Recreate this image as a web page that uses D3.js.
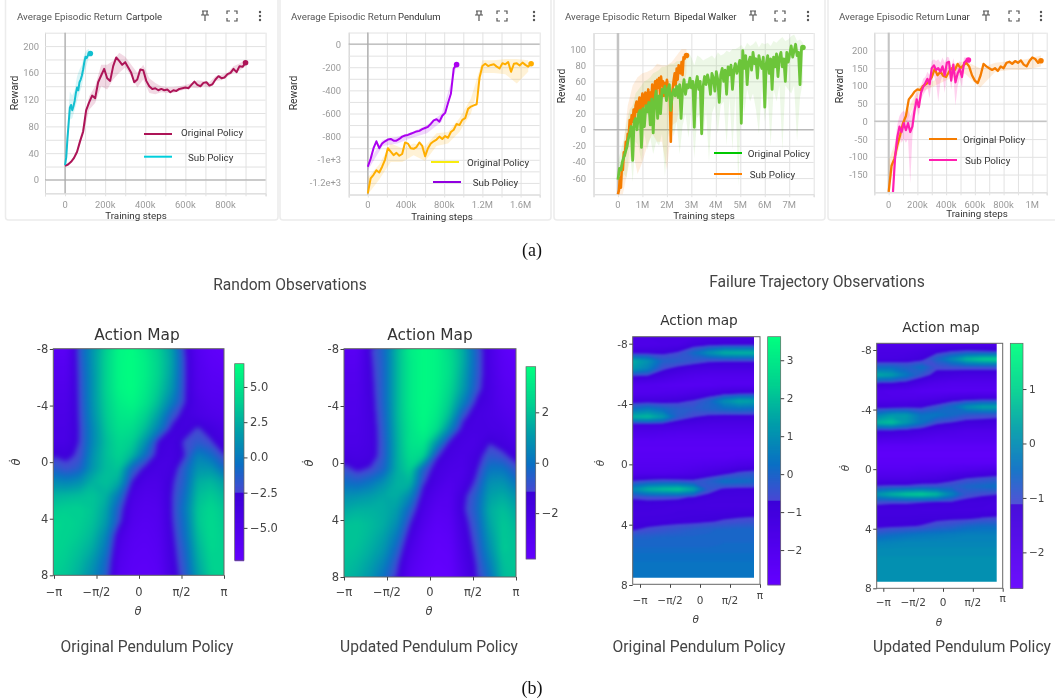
<!DOCTYPE html>
<html><head><meta charset="utf-8">
<script src="https://cdn.jsdelivr.net/npm/d3@7"></script>
<style>html,body{margin:0;padding:0;background:#fff}svg{display:block;filter:blur(.55px)}</style>
</head><body><div id="c"></div>
<script>
// ---------- Training-curve data ----------
const cartOrig=[21,23,27,33,42,58,72,104,116,126,122,146,156,166,152,148,170,183,178,172,176,168,160,146,150,165,164,148,140,136,137,134,136,134,135,131,134,133,136,137,138,137,142,147,142,140,145,146,141,143,150,155,152,153,158,160,166,161,170,169,175];
const cartOrigHi=[22,28,46,80,125,140,172,172,178,190,184,172,160,172,152,145,140,139,139,140,142,145,149,148,146,155,157,160,170,174,180];
const cartOrigLo=[20,26,40,66,105,115,140,135,150,160,168,155,138,150,130,128,131,130,130,133,135,138,137,140,138,148,149,154,160,163,170];
const cartSub=[22,34,62,85,108,112,104,110,118,130,138,134,146,150,156,165,176,184,182,186,190,189];
const cartSubHi=[24,80,132,126,134,155,165,172,188,194,196];
const cartSubLo=[22,50,90,92,105,118,130,140,160,172,184];

const pendOrig=[-1290,-1160,-1130,-1090,-1110,-1060,-1000,-900,-930,-960,-940,-965,-950,-850,-860,-900,-905,-890,-850,-880,-970,-900,-860,-840,-825,-800,-820,-795,-810,-760,-740,-690,-700,-655,-640,-560,-540,-530,-520,-290,-190,-170,-190,-180,-175,-195,-210,-165,-175,-155,-240,-170,-165,-185,-160,-180,-195,-170];
const pendOrigHi=[-1150,-1040,-860,-900,-860,-880,-770,-760,-640,-470,-140,-140,-130,-130,-140];
const pendOrigLo=[-1300,-1170,-1020,-1020,-960,-1010,-880,-860,-760,-600,-250,-250,-260,-340,-240];
const pendSub=[-1060,-990,-900,-840,-900,-860,-840,-825,-820,-835,-835,-820,-800,-790,-785,-775,-765,-755,-750,-735,-725,-715,-690,-660,-650,-670,-620,-595,-510,-430,-210,-178];
const pendSubHi=[-1030,-830,-800,-760,-700,-600,-165];
const pendSubLo=[-1090,-880,-860,-810,-770,-670,-190];

const walkOrig=[-62,-48,-50,-40,-34,-28,-22,-12,-4,4,
-38,10,14,0,20,24,-22,26,4,30,
22,34,6,38,-4,36,48,14,42,20,
50,46,54,36,50,56,24,44,50,42,
54,40,56,14,50,62,44,56,52,64,
52,60,3,56,66,50,60,-5,54,66,
56,68,60,44,70,64,48,72,62,34,
68,76,60,74,44,78,68,80,50,74,
82,70,78,86,8,98,76,92,56,84,
90,74,96,82,88,64,92,82,76,90,
28,82,92,70,88,50,90,78,94,66,
90,96,78,88,60,96,84,94,104,90,
98,106,92,96,56,100,102];
const walkOrigHi=[-40,-25,-12,10,25,30,45,50,55,60,62,65,70,72,74,78,78,80,82,82,85,85,88,90,96,90,80,92,90,86,88,90,92,88,96,92,94,98,96,100,100,102,105,100,108,104,106,110,102,108,106,108,104,110,108,112,115,110,112,116,118,110,112,108];
const walkOrigLo=[-80,-70,-55,-60,-20,-65,-15,-20,-40,-5,-25,-10,-30,-15,-20,-5,-58,-10,5,-8,10,-30,5,20,-10,25,-35,15,20,-10,25,-40,20,30,-5,30,35,-20,40,-25,45,-70,45,20,50,35,45,25,-5,50,10,45,-20,50,35,55,-25,55,50,45,55,-15,40,60];
const walkSub=[-80,-75,-60,-72,-45,-50,-28,-32,-15,-22,-5,-8,12,2,18,10,25,8,30,35,22,32,40,18,36,45,28,38,46,30,42,50,25,46,35,56,30,48,60,40,62,52,64,44,66,55,60,42,58,48,62,54,50,40,-15,40,52,62,70,55,76,62,80,74,70,84,68,90,88,92,92];
const walkSubHi=[-60,-25,30,55,65,70,72,75,82,80,80,84,92,100,100];
const walkSubLo=[-80,-80,-50,-25,-55,-40,-20,-5,-15,-15,-50,5,10,40,70];

const lunarOrig=[-199,-125,-105,-68,-38,-5,15,62,72,84,90,88,100,105,112,125,148,130,140,128,125,140,150,145,162,150,158,165,155,130,115,108,130,162,155,150,145,150,142,155,150,165,168,162,170,165,172,160,155,170,180,176,165,171];
const lunarOrigHi=[-110,8,100,115,158,170,150,165,170,175,186];
const lunarOrigLo=[-190,-20,80,100,120,135,95,140,145,145,155];
const lunarSub=[-199,-100,-45,-15,-30,-5,-25,-5,-30,-15,30,62,40,80,97,108,120,105,150,158,145,150,140,155,130,165,168,115,160,110,135,148,125,165,172,173];
const lunarSubHi=[-150,-60,-10,15,25,30,20,35,15,30,60,85,60,100,120,125,140,130,170,175,170,175,165,180,165,182,180,150,178,150,160,170,150,180,180,178];
const lunarSubLo=[-199,-120,-70,-40,-60,-50,-60,-50,-175,-45,5,40,15,60,75,85,95,65,120,130,110,55,110,130,80,140,140,90,130,45,100,120,95,150,165,170];

// ---------- Axis ticks ----------
const cartXTicks=[0,200000,400000,600000,800000];
const cartXLabels=["0","200k","400k","600k","800k"];
const cartYTicks=[0,40,80,120,160,200];
const pendXTicks=[0,400000,800000,1200000,1600000];
const pendXLabels=["0","400k","800k","1.2M","1.6M"];
const pendYTicks=[0,-200,-400,-600,-800,-1000,-1200];
const pendYLabels=["0","-200","-400","-600","-800","-1e+3","-1.2e+3"];
const walkXTicks=[0,1e6,2e6,3e6,4e6,5e6,6e6,7e6];
const walkXLabels=["0","1M","2M","3M","4M","5M","6M","7M"];
const walkYTicks=[100,80,60,40,20,0,-20,-40,-60];
const lunarXTicks=[0,2e5,4e5,6e5,8e5,1e6];
const lunarXLabels=["0","200k","400k","600k","800k","1M"];
const lunarYTicks=[200,150,100,50,0,-50,-100,-150];

// ---------- Action maps: rows top to bottom, theta left to right ----------
const map1=[
[-6,-6,-1.5,1.5,4,6.3,6.5,5.5,4,2,-2.4,-5.5,-6.5,-6.8],
[-5.5,-5.5,-1.8,1.5,4.2,6.3,6.6,5.8,4.2,2.2,-2.2,-5.2,-6.2,-6.5],
[-5.2,-5.2,-2,1.4,4.2,6.3,6.6,5.8,4.2,2,-2.2,-5,-5.8,-6],
[-4.8,-4.8,-2.1,1.4,4.2,6.2,6.6,5.6,3.8,1.6,-2.3,-4.8,-5.5,-5.6],
[-4.5,-4.5,-2.2,1.4,4,5.8,6.3,5.2,3.2,0.5,-2.4,-4.3,-5,-5.2],
[-4.2,-4.2,-2.3,1.2,3.8,5.4,5.6,4.2,2,-1.5,-3.2,-4,-4.5,-4.8],
[-4,-4,-2.4,0.8,3.5,5,4.8,3.2,0.5,-2.8,-3.2,-2.3,-3.2,-4],
[-3.8,-3.8,-2.4,0.8,3.2,4.5,4,1.5,-2.8,-3.4,-2.3,-1.5,-2.3,-3.5],
[-2.6,-2.9,-2.2,1.3,3.3,4.2,3,-0.5,-3.2,-3.6,-2.5,0.5,-0.5,-2.4],
[-1.2,-2,-1.2,1.6,3.2,3.6,-1,-3,-3.8,-3.5,-1.2,1.5,1.5,-0.5],
[1,0.6,1.2,2.8,3.4,2.4,-2.6,-4.2,-4.3,-2.8,-1,2.6,3,2],
[2.8,3,3.2,3.5,2.8,0,-4,-4.8,-4.6,-2.6,-0.5,3.2,3.8,3],
[3.8,4,4,3.6,2.2,-1.5,-4.6,-5.2,-5,-2.6,0,3.6,4.4,3.6],
[4.4,4.3,4,3.4,1.8,-2,-5,-5.6,-5.2,-2.7,-0.3,3.6,4.6,3.8],
[4.4,4.2,3.8,3,0.8,-3.8,-5.5,-5.8,-5.4,-3,-0.5,3.2,4.6,4],
[4.4,4,3.4,2.4,0,-4.5,-5.8,-6,-5.6,-3.2,-1,2.8,4.4,4.2],
[4.2,3.8,3,1.6,-0.8,-5,-6,-6.2,-5.8,-3.4,-1.3,2.4,4.2,4.2],
[4,3.6,2.6,1,-1.2,-5.4,-6.2,-6.4,-6,-3.6,-1.6,2,4,4.2]];
const map2=[
[-3,-3,-1.2,-0.2,1.8,3.3,3.7,3.5,2.7,1.6,-0.4,-2,-3.2,-3.6],
[-2.8,-2.8,-1.3,-0.3,1.8,3.2,3.7,3.5,2.8,1.6,-0.4,-2,-3,-3.4],
[-2.6,-2.6,-1.4,-0.3,1.8,3.2,3.7,3.5,2.8,1.4,-0.5,-1.9,-2.9,-3.2],
[-2.5,-2.5,-1.5,-0.3,1.8,3.2,3.7,3.5,2.6,1.2,-0.7,-1.9,-2.7,-3],
[-2.4,-2.4,-1.6,-0.3,1.8,3.2,3.7,3.4,2.3,0.5,-1.3,-1.9,-2.6,-2.8],
[-2.3,-2.3,-1.7,-0.4,1.8,3.1,3.7,3.2,1.8,-0.8,-1.8,-2,-2.3,-2.6],
[-2.2,-2.2,-1.8,-0.5,1.7,3,3.6,2.8,0.6,-1.6,-1.9,-1.9,-2,-2.4],
[-2.1,-2.1,-1.8,-0.6,1.6,3,3.2,1,-1.4,-1.9,-2,-1.2,-1.6,-2.1],
[-1.7,-1.9,-1.7,-0.6,1.6,2.8,2.5,-1,-1.8,-2.1,-1.6,-0.6,-0.9,-1.5],
[-0.8,-1.3,-1,-0.3,1.6,2.4,-0.4,-1.7,-2.1,-2.2,-1.3,0.2,0.2,-0.7],
[0,-0.2,0.2,0.9,1.7,1.8,-1,-2,-2.5,-2,-0.9,0.9,1,0.2],
[0.9,1,1.2,1.5,1.6,0.6,-1.7,-2.5,-2.7,-1.4,-0.4,1.3,1.6,1],
[1.5,1.7,1.7,1.6,1.2,-0.4,-2.1,-2.9,-2.8,-1.3,-0.3,1.6,2,1.5],
[2,2.1,1.9,1.6,0.8,-1.1,-2.5,-3.2,-3,-1.6,-0.5,1.4,2.2,1.8],
[2.1,2.1,1.8,1.3,0.2,-1.7,-2.9,-3.4,-3.2,-1.8,-0.7,1.1,2.2,2],
[2.1,2,1.6,1,-0.4,-2.2,-3.1,-3.5,-3.4,-2,-0.9,0.8,2.2,2.1],
[2,1.8,1.3,0.5,-0.9,-2.6,-3.3,-3.6,-3.5,-2.2,-1.1,0.4,2,2.2],
[1.9,1.6,1,0,-1.2,-2.9,-3.5,-3.7,-3.6,-2.4,-1.2,0,1.9,2.1]];
const map3=[
[-1.5,-1.5,-1.5,-1.5,-1.5,-1.4,-1.4,-1.4,-1.4],
[-1.6,-1.6,-1.5,-1.4,-1,-0.8,-0.7,-0.7,-0.7],
[-0.9,-0.9,-0.85,-0.6,0.2,1.1,1.8,1.9,1.9],
[1.7,1.1,0,-0.1,-0.3,-0.55,-0.6,-0.6,-0.6],
[1.3,0.7,-0.55,-0.95,-1.2,-1.3,-1.3,-1.3,-1.3],
[-0.85,-0.9,-1.3,-1.6,-1.8,-1.9,-1.9,-1.9,-1.9],
[-1.8,-1.9,-2,-2.1,-2.1,-2.1,-2,-2,-2],
[-1.9,-1.9,-1.8,-1.7,-1.5,-1.3,-1,-0.85,-0.8],
[-1,-1,-1,-0.85,-0.6,0,1,1.6,1.5],
[0.3,0.6,0.2,-0.1,-0.2,0,0.2,0.3,0.2],
[1.8,2,1.3,-0.2,-0.65,-0.9,-1,-1,-1],
[-1.1,-1.1,-1.15,-1.3,-1.4,-1.5,-1.5,-1.5,-1.5],
[-1.7,-1.7,-1.8,-1.9,-1.9,-1.9,-1.9,-1.9,-1.9],
[-2.2,-2.2,-2.2,-2.2,-2.2,-2.2,-2.2,-2.2,-2.2],
[-2.3,-2.3,-2.3,-2.3,-2.3,-2.3,-2.3,-2.3,-2.3],
[-2.2,-2.2,-2.2,-2.2,-2.2,-2.2,-2.2,-2.1,-2.1],
[-2,-2,-2,-2,-1.9,-1.8,-1.7,-1.5,-1.4],
[-1.8,-1.8,-1.8,-1.7,-1.5,-1.2,-0.9,-0.5,-0.3],
[-0.6,-0.4,-0.3,-0.4,-0.5,-0.1,0.4,0.3,0.2],
[1,1.8,2.1,2.3,1.6,-0.3,-0.8,-0.9,-0.9],
[-0.6,-0.5,-0.5,-0.55,-0.75,-1,-1.1,-1.1,-1.1],
[-1,-1,-1.05,-1.1,-1.15,-1.2,-1.2,-1.2,-1.2],
[-1.1,-1.1,-1.1,-1.05,-1,-1,-0.95,-0.9,-0.85],
[-1,-1,-0.95,-0.9,-0.85,-0.75,-0.6,-0.5,-0.45],
[-0.75,-0.55,-0.4,-0.25,-0.1,0,0.05,0.1,0.1],
[0,0,0.05,0.05,0.05,0.05,0.1,0.1,0.1],
[0.1,0.1,0.1,0.1,0.1,0.1,0.15,0.15,0.15],
[0.25,0.25,0.25,0.25,0.25,0.25,0.25,0.25,0.25],
[0.35,0.35,0.35,0.35,0.35,0.35,0.35,0.35,0.35],
[0.4,0.4,0.4,0.4,0.4,0.4,0.4,0.4,0.4],
[0.4,0.4,0.4,0.4,0.4,0.4,0.4,0.4,0.4]];
const map4=[
[-1.9,-1.9,-1.9,-1.9,-1.9,-1.9,-1.9,-1.9,-1.9],
[-1.6,-1.6,-1.6,-1.5,-1.3,-1.1,-1,-1.05,-1.1],
[-1.5,-1.5,-1.4,-1.25,-0.6,0,0.7,1,1.1],
[-0.5,-0.5,-0.7,-0.4,-1,-0.95,-0.9,-0.9,-0.9],
[0.5,0.3,-0.3,-0.9,-1.3,-1.4,-1.5,-1.5,-1.5],
[-1.1,-1.15,-1.3,-1.6,-1.8,-1.9,-1.9,-1.9,-1.9],
[-1.8,-1.9,-1.95,-2.1,-2.1,-2.1,-2.1,-2.1,-2.1],
[-1.8,-1.8,-1.8,-1.7,-1.6,-1.4,-1.3,-1.25,-1.25],
[-1.3,-1.3,-1.25,-1.2,-0.9,-0.5,0.1,0.4,0.4],
[-0.2,0.2,0.2,-0.4,-0.3,-0.5,-0.8,-0.9,-0.9],
[0.6,0.8,0.2,-0.4,-1,-1.15,-1.3,-1.3,-1.4],
[-1.2,-1.2,-1.3,-1.45,-1.6,-1.7,-1.8,-1.8,-1.8],
[-1.7,-1.8,-1.8,-1.9,-2,-2,-2,-2,-2],
[-2.3,-2.3,-2.3,-2.3,-2.3,-2.3,-2.3,-2.3,-2.3],
[-2.4,-2.4,-2.4,-2.4,-2.4,-2.4,-2.4,-2.4,-2.4],
[-2.3,-2.3,-2.3,-2.3,-2.3,-2.3,-2.3,-2.3,-2.3],
[-2.1,-2.1,-2.1,-2,-2,-1.9,-1.8,-1.7,-1.6],
[-1.7,-1.7,-1.7,-1.6,-1.5,-1.3,-1.1,-1,-0.9],
[-1.05,-1,-1,-0.9,-0.9,-0.8,-0.6,-0.5,-0.4],
[0.2,0.6,0.9,1,0.7,-0.1,-0.9,-1.05,-1.1],
[-1,-1.05,-1.05,-1.1,-1.15,-1.2,-1.3,-1.35,-1.4],
[-1.35,-1.35,-1.35,-1.4,-1.4,-1.4,-1.4,-1.4,-1.4],
[-1.3,-1.3,-1.3,-1.25,-1.25,-1.2,-1.2,-1.1,-1.05],
[-1.25,-1.2,-1.15,-1.1,-0.9,-0.8,-0.6,-0.5,-0.5],
[-0.7,-0.55,-0.45,-0.35,-0.3,-0.25,-0.2,-0.2,-0.2],
[-0.2,-0.15,-0.1,-0.1,-0.1,-0.1,-0.1,-0.1,-0.1],
[0,0,0,0,0,0,0,0,0],
[0.05,0.05,0.05,0.05,0.05,0.05,0.05,0.05,0.05],
[0.1,0.1,0.1,0.1,0.1,0.1,0.1,0.1,0.1],
[0.1,0.1,0.1,0.1,0.1,0.1,0.1,0.1,0.1],
[0.1,0.1,0.1,0.1,0.1,0.1,0.1,0.1,0.1]];
const dotThetaTicks=[-8,-4,0,4,8];
const thetaTicks=[-Math.PI,-Math.PI/2,0,Math.PI/2,Math.PI];
const thetaLabels=["−π","−π/2","0","π/2","π"];

// ---------- Layout ----------
const svg=d3.select("#c").append("svg").attr("width",1055).attr("height",700);
const defs=svg.append("defs");
const FONT_SANS="Roboto, sans-serif", FONT_MPL="'DejaVu Sans', sans-serif";
function txt(x,y,s,opts={}){
  const t=svg.append("text").attr("x",x).attr("y",y).text(s)
   .attr("font-size",opts.size||10).attr("fill",opts.fill||"#333")
   .attr("font-family",opts.font||FONT_SANS).attr("text-anchor",opts.anchor||"start")
   .attr("dominant-baseline","central");
  if(opts.style)t.attr("font-style",opts.style);
  if(opts.rotate)t.attr("transform",`rotate(${opts.rotate} ${x} ${y})`);
  return t;
}
function icons(px,dx,fx,dotx,y){
  const g=svg.append("g").attr("stroke","#555").attr("fill","none").attr("stroke-width",1.2);
  g.append("path").attr("d",`M${px-3},${y-5}h6M${px-2},${y-5}v4M${px+2},${y-5}v4M${px-4},${y-1}h8M${px},${y-1}v6`);
  g.append("path").attr("d",`M${fx-5},${y-2}v-3h3M${fx+2},${y-5}h3v3M${fx+5},${y+2}v3h-3M${fx-2},${y+5}h-3v-3`);
  [-4,0,4].forEach(d=>svg.append("circle").attr("cx",dotx).attr("cy",y+d).attr("r",1.2).attr("fill","#555"));
}
function panel(p){
  svg.append("rect").attr("x",p.card[0]).attr("y",-3).attr("width",p.card[1]-p.card[0]).attr("height",223)
    .attr("rx",3).attr("fill","#fff").attr("stroke","#ececec").attr("stroke-width",1.5);
  const x=d3.scaleLinear().domain(p.xd).range(p.xr), y=d3.scaleLinear().domain(p.yd).range(p.yr);
  const g=svg.append("g");
  const gx=g.append("g").attr("transform",`translate(0,${p.yr[0]})`)
    .call(d3.axisBottom(x).tickValues(d3.range(p.xd[0],p.xd[1]+1,p.xGrid)).tickSize(3).tickFormat(""));
  gx.selectAll("line").attr("y1",p.yr[1]-p.yr[0]).attr("y2",3).attr("stroke","#e2e2e2");
  gx.select(".domain").attr("stroke","#cfcfcf");
  const gy=g.append("g").attr("transform",`translate(${p.xr[0]},0)`)
    .call(d3.axisLeft(y).tickValues(d3.range(p.yd[0],p.yd[1]+1,p.yGrid)).tickSize(0).tickFormat(""));
  gy.selectAll("line").attr("x1",p.xr[1]-p.xr[0]).attr("x2",0).attr("stroke","#e2e2e2");
  gy.select(".domain").attr("stroke","#d4d4d4");
  g.append("line").attr("x1",x(0)).attr("x2",x(0)).attr("y1",p.yr[0]).attr("y2",p.yr[1]).attr("stroke",p.zeroV[0]).attr("stroke-width",p.zeroV[1]);
  g.append("line").attr("x1",p.xr[0]).attr("x2",p.xr[1]).attr("y1",y(0)).attr("y2",y(0)).attr("stroke",p.zeroH[0]).attr("stroke-width",p.zeroH[1]);
  // tick labels
  p.xTicks.forEach((v,i)=>txt(x(v),204,p.xLabels[i],{size:9.4,fill:"#9a9a9a",anchor:"middle"}));
  p.yTicks.forEach((v,i)=>txt(p.yLabelX,y(v),p.yLabels?p.yLabels[i]:String(v),{size:9.4,fill:"#9a9a9a",anchor:"end"}));
  p.series.forEach(s=>{
    const bx=i=>x((s.start||0)+i*s.bandStep);
    g.append("path").datum(s.hi.map((h,i)=>[i,h,s.lo[i]]))
      .attr("d",d3.area().x(d=>bx(d[0])).y0(d=>y(d[2])).y1(d=>y(d[1])))
      .attr("fill",s.color).attr("opacity",s.bandOp||.16);
  });
  p.series.forEach(s=>{
    const sx=i=>x((s.start||0)+i*s.step);
    g.append("path").datum(s.v).attr("fill","none").attr("stroke",s.color).attr("stroke-width",s.w||2)
      .attr("stroke-linejoin","round").attr("d",d3.line().x((d,i)=>sx(i)).y(d=>y(d)));
    g.append("circle").attr("cx",sx(s.v.length-1)).attr("cy",y(s.v[s.v.length-1])).attr("r",2.8).attr("fill",s.color);
  });
  txt(p.titleX,16,"Average Episodic Return",{size:9.75,fill:"#555"});
  txt(p.nameX,16,p.name,{size:9.5,fill:"#333"});
  icons(p.icons[0],0,p.icons[1],p.icons[2],16);
  txt(p.xLabel[0],p.xLabel[1],"Training steps",{size:9.8,fill:"#333",anchor:"middle"});
  txt(p.yLabel[0],p.yLabel[1],"Reward",{size:10.4,fill:"#333",anchor:"middle",rotate:-90});
  p.legend.forEach(l=>{
    svg.append("line").attr("x1",l.x1).attr("x2",l.x1+28).attr("y1",l.y).attr("y2",l.y).attr("stroke",l.color).attr("stroke-width",2);
    txt(l.tx,l.ty,l.label,{size:9.8,fill:"#333"});
  });
}
const panels=[
 {name:"Cartpole",card:[5.5,278],titleX:17,nameX:126,icons:[205,232,260],xd:[-1e5,1e6],xr:[45,265.6],yd:[-20,220],yr:[193.3,32.7],xGrid:1e5,yGrid:20,
  xTicks:cartXTicks,xLabels:cartXLabels,yTicks:cartYTicks,yLabelX:39,zeroV:["#a8a8a8",1.2],zeroH:["#a8a8a8",1],
  xLabel:[136,215],yLabel:[14,93],
  series:[{v:cartOrig,step:15000,hi:cartOrigHi,lo:cartOrigLo,bandStep:30000,color:"#ad1457"},{v:cartSub,step:6000,hi:cartSubHi,lo:cartSubLo,bandStep:12000,color:"#12bfd0"}],
  legend:[{x1:144,y:134,color:"#ad1457",tx:181,ty:132.5,label:"Original Policy"},{x1:144,y:156.7,color:"#00cfdc",tx:188,ty:157,label:"Sub Policy"}]},
 {name:"Pendulum",card:[280,551],titleX:291,nameX:398,icons:[479,502,534],xd:[-2e5,1.8e6],xr:[348.7,539.7],yd:[-1300,100],yr:[194.5,32.5],xGrid:2e5,yGrid:100,
  xTicks:pendXTicks,xLabels:pendXLabels,yTicks:pendYTicks,yLabels:pendYLabels,yLabelX:341,zeroV:["#a8a8a8",1.2],zeroH:["#a8a8a8",1],
  xLabel:[442,216],yLabel:[293,93],
  series:[{v:pendOrig,step:30000,hi:pendOrigHi,lo:pendOrigLo,bandStep:120000,color:"#ffae00"},{v:pendSub,step:30000,hi:pendSubHi,lo:pendSubLo,bandStep:155000,color:"#ab00f0"}],
  legend:[{x1:431,y:162,color:"#f8ec10",tx:467,ty:162,label:"Original Policy"},{x1:433,y:182,color:"#9000e0",tx:472.7,ty:182.5,label:"Sub Policy"}]},
 {name:"Bipedal Walker",card:[554,825],titleX:565,nameX:674,icons:[753,780,808],xd:[-1e6,8e6],xr:[593.5,813.7],yd:[-80,120],yr:[194.2,33],xGrid:1e6,yGrid:20,
  xTicks:walkXTicks,xLabels:walkXLabels,yTicks:walkYTicks,yLabelX:586,zeroV:["#c4c4c4",2.5],zeroH:["#a8a8a8",1],
  xLabel:[704,215],yLabel:[561,86],
  series:[{v:walkSub,step:40000,hi:walkSubHi,lo:walkSubLo,bandStep:200000,color:"#f57c00",bandOp:.12,w:2.6},{v:walkOrig,step:60000,hi:walkOrigHi,lo:walkOrigLo,bandStep:120000,color:"#6cc53a",bandOp:.12,w:2.8}],
  legend:[{x1:714,y:153,color:"#00c800",tx:747.7,ty:153,label:"Original Policy"},{x1:714,y:174,color:"#ff8000",tx:749.7,ty:174.5,label:"Sub Policy"}]},
 {name:"Lunar",card:[828,1060],titleX:839,nameX:946,icons:[986,1014,1041],xd:[-1e5,1.1e6],xr:[874.3,1046.7],yd:[-200,250],yr:[192.3,32.7],xGrid:1e5,yGrid:50,
  xTicks:lunarXTicks,xLabels:lunarXLabels,yTicks:lunarYTicks,yLabelX:867.7,zeroV:["#c4c4c4",2],zeroH:["#c4c4c4",1.5],
  xLabel:[977,213],yLabel:[839,86],
  series:[{v:lunarOrig,step:20000,hi:lunarOrigHi,lo:lunarOrigLo,bandStep:106000,color:"#f57c00",bandOp:.14,w:2.3},{v:lunarSub,start:30000,step:15000,hi:lunarSubHi,lo:lunarSubLo,bandStep:15000,color:"#ff1fb0",bandOp:.2,w:2.2}],
  legend:[{x1:929,y:139,color:"#f57c00",tx:963,ty:139,label:"Original Policy"},{x1:929,y:160,color:"#ff1fb0",tx:965,ty:160.5,label:"Sub Policy"}]}
];
panels.forEach(panel);
txt(532,250,"(a)",{size:18,fill:"#111",font:"'Liberation Serif',serif",anchor:"middle"});
txt(532,688,"(b)",{size:18,fill:"#111",font:"'Liberation Serif',serif",anchor:"middle"});
txt(290,285,"Random Observations",{size:15.6,fill:"#444",anchor:"middle"});
txt(817,281,"Failure Trajectory Observations",{size:15.7,fill:"#444",anchor:"middle"});

// ---------- Colour map with the jump seen in every colour bar ----------
function makeColor(min,jump,max){
  const n=d3.scaleLinear().domain([jump,max]).range([0,1]);
  const low=d3.scaleLinear().domain([min,jump]).range(["#6400ff","#3c00d8"]).clamp(true);
  const high=d3.scaleLinear().domain([0,.22,.48,.7,1]).range(["#4848d4","#0a70c4","#00a0a8","#00d090","#00ff80"]).clamp(true);
  return v=>v<jump?low(v):high(n(v));
}
let mapId=0;
function actionMap(m){
  const id="m"+(mapId++);
  const nr=m.grid.length,nc=m.grid[0].length;
  const color=makeColor(m.min,m.jump,m.max);
  const thr=d3.range(m.min,m.max,(m.max-m.min)/60).concat([m.jump]).sort(d3.ascending);
  const vals=m.grid.flat();
  const contours=d3.contours().size([nc,nr]).smooth(true).thresholds(thr)(vals);
  const sx=d3.scaleLinear().domain([.5,nc-.5]).range([m.img[0],m.img[1]]);
  const sy=d3.scaleLinear().domain([.5,nr-.5]).range([m.img[2],m.img[3]]);
  const path=d3.geoPath(d3.geoTransform({point(a,b){this.stream.point(sx(a),sy(b));}}));
  defs.append("clipPath").attr("id",id).append("rect").attr("x",m.img[0]).attr("y",m.img[2]).attr("width",m.img[1]-m.img[0]).attr("height",m.img[3]-m.img[2]);
  const outer=svg.append("g").attr("clip-path",`url(#${id})`);
  const g=outer.append("g").style("filter",`blur(${m.blur}px)`);
  g.append("rect").attr("x",sx(0)).attr("y",sy(0)).attr("width",sx(nc)-sx(0)).attr("height",sy(nr)-sy(0)).attr("fill",color(m.min));
  g.selectAll("path").data(contours).join("path").attr("d",path).attr("fill",d=>color(d.value+1e-6));
  // frame + axes
  const fx=d3.scaleLinear().domain([-Math.PI,Math.PI]).range(m.xt);
  const fy=d3.scaleLinear().domain([-8,8]).range(m.yt);
  svg.append("rect").attr("x",m.box[0]).attr("y",m.box[2]).attr("width",m.box[1]-m.box[0]).attr("height",m.box[3]-m.box[2]).attr("fill","none").attr("stroke","#666");
  const gx=svg.append("g").attr("transform",`translate(0,${m.box[3]})`).call(d3.axisBottom(fx).tickValues(thetaTicks).tickSize(3.5).tickFormat(""));
  gx.select(".domain").remove(); gx.selectAll("line").attr("stroke","#444");
  const gy=svg.append("g").attr("transform",`translate(${m.box[0]},0)`).call(d3.axisLeft(fy).tickValues(dotThetaTicks).tickSize(3.5).tickFormat(""));
  gy.select(".domain").remove(); gy.selectAll("line").attr("stroke","#444");
  thetaTicks.forEach((v,i)=>txt(fx(v),(i==4&&m.piUp)?m.piUp:m.xLabY,thetaLabels[i],{size:m.fs,fill:"#444",font:FONT_MPL,anchor:"middle"}));
  dotThetaTicks.forEach(v=>txt(m.box[0]-5,fy(v),String(v),{size:m.fs,fill:"#444",font:FONT_MPL,anchor:"end"}));
  txt(m.titleX,m.titleY,m.title,{size:m.titleSize,fill:"#333",font:FONT_MPL,anchor:"middle"});
  txt(m.thX,m.thY,"θ",{size:m.fs,fill:"#444",font:FONT_MPL,anchor:"middle",style:"italic"});
  txt(m.dthX,m.dthY,"θ\u0307",{size:m.fs,fill:"#444",font:FONT_MPL,anchor:"middle",style:"italic",rotate:-90});
  // colour bar
  const cb=d3.scaleLinear().domain([m.min,m.max]).range([m.cb[3],m.cb[2]]);
  const levels=d3.range(0,Math.round(m.cb[3]-m.cb[2]));
  svg.append("g").selectAll("rect").data(levels).join("rect")
    .attr("x",m.cb[0]).attr("width",m.cb[1]-m.cb[0]).attr("y",d=>m.cb[2]+d).attr("height",1.5)
    .attr("fill",d=>color(cb.invert(m.cb[2]+d+.5)));
  svg.append("rect").attr("x",m.cb[0]).attr("y",m.cb[2]).attr("width",m.cb[1]-m.cb[0]).attr("height",m.cb[3]-m.cb[2]).attr("fill","none").attr("stroke","#666").attr("stroke-width",.7);
  const ga=svg.append("g").attr("transform",`translate(${m.cb[1]},0)`).call(d3.axisRight(cb).tickValues(m.cbTicks).tickSize(3.5).tickFormat(""));
  ga.select(".domain").remove(); ga.selectAll("line").attr("stroke","#444");
  m.cbTicks.forEach((v,i)=>txt(m.cb[1]+6,cb(v),m.cbLabels[i],{size:m.fs,fill:"#444",font:FONT_MPL}));
  txt(m.capX,647,m.caption,{size:15.6,fill:"#444",anchor:"middle"});
}
actionMap({grid:map1,blur:2.6,min:-7.3,jump:-2.5,max:6.65,img:[53.3,224,348.7,575.3],box:[53.3,224,348.7,575.3],xt:[54,224],yt:[349,575.3],
  cb:[234.7,244,363.7,560.3],cbTicks:[5,2.5,0,-2.5,-5],cbLabels:["5.0","2.5","0.0","−2.5","−5.0"],fs:11.5,xLabY:592,
  title:"Action Map",titleX:137,titleY:335,titleSize:15.4,thX:138,thY:611,dthX:16,dthY:462,capX:147,caption:"Original Pendulum Policy"});
actionMap({grid:map2,blur:2.6,min:-3.82,jump:-1.15,max:3.81,img:[344,516,348.7,577],box:[344,516,348.7,577],xt:[344,516],yt:[349,577],
  cb:[526,535.7,366.7,559],cbTicks:[2,0,-2],cbLabels:["2","0","−2"],fs:11.5,xLabY:592,
  title:"Action Map",titleX:430,titleY:335,titleSize:15.4,thX:429,thY:611,dthX:309,dthY:463,capX:429,caption:"Updated Pendulum Policy"});
actionMap({grid:map3,blur:1.3,min:-2.92,jump:-0.69,max:3.62,img:[632.7,754,336.7,577.7],box:[632.7,760,336.7,584.3],xt:[640,760],yt:[343.7,585],
  cb:[767.7,780.7,336.7,585],cbTicks:[3,2,1,0,-1,-2],cbLabels:["3","2","1","0","−1","−2"],fs:10.5,xLabY:600,piUp:595,
  title:"Action map",titleX:699,titleY:320,titleSize:13.7,thX:695.7,thY:619,dthX:600,dthY:463,capX:699,caption:"Original Pendulum Policy"});
actionMap({grid:map4,blur:1.3,min:-2.66,jump:-1.12,max:1.84,img:[876.7,996.7,343.3,581.7],box:[876.7,1002.7,343.3,588.3],xt:[883.3,1002.7],yt:[350,588.3],
  cb:[1010.3,1023,343.3,588.3],cbTicks:[1,0,-1,-2],cbLabels:["1","0","−1","−2"],fs:10.5,xLabY:602,piUp:598,
  title:"Action map",titleX:941,titleY:327,titleSize:13.7,thX:939,thY:621.7,dthX:845,dthY:468,capX:962,caption:"Updated Pendulum Policy"});
</script></body></html>
